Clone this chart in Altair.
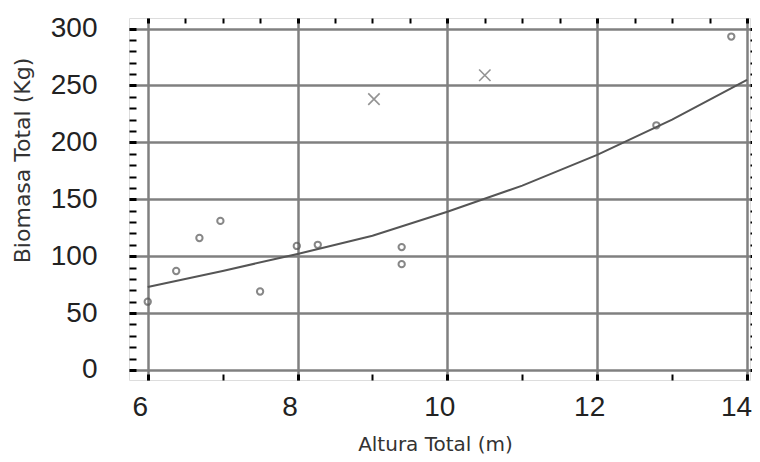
import altair as alt
import pandas as pd

# Observed data (circles)
obs_x = [6.0, 6.38, 6.69, 6.97, 7.50, 7.99, 8.27, 9.39, 9.39, 12.79, 13.79]
obs_y = [60, 87, 116, 131, 69, 109, 110, 108, 93, 215, 293]
# Outliers (crosses)
out_x = [9.02, 10.50]
out_y = [238, 259]
# Fitted curve
fit_x = [6.0, 7.0, 8.0, 9.0, 10.0, 11.0, 12.0, 13.0, 14.0]
fit_y = [73, 87, 102, 118, 139, 162, 189, 220, 255]

x_ticks_minor = [6 + 0.5 * i for i in range(17)]
y_ticks_minor = [10 * i for i in range(31)]

X_DOMAIN = [5.75, 14.04]
Y_DOMAIN = [-8.8, 309.3]

obs = pd.DataFrame({"x": obs_x, "y": obs_y})
out = pd.DataFrame({"x": out_x, "y": out_y})
fit = pd.DataFrame({"x": fit_x, "y": fit_y})

xs = alt.Scale(domain=X_DOMAIN, nice=False, zero=False)
ys = alt.Scale(domain=Y_DOMAIN, nice=False, zero=False)

LABEL_FONT = "Liberation Sans"
TITLE_FONT = "DejaVu Sans"

x_bottom = alt.Axis(
    title="Altura Total (m)",
    values=x_ticks_minor,
    format="d",
    labelExpr="datum.value % 2 === 0 ? datum.label : ''",
    labelFont=LABEL_FONT, labelFontSize=28, labelColor="#222",
    labelPadding=13,
    labelOffset={"condition": {"test": "datum.value === 14", "value": -11}, "value": -8},
    labelFlush=False, labelOverlap=False,
    offset=-6, tickSize=6, tickColor="#000",
    tickWidth={"condition": {"test": "datum.value % 2 === 0", "value": 3}, "value": 2},
    domain=False,
    grid=True, gridColor="#808080", gridWidth=2.5,
    gridOpacity={"condition": {"test": "datum.value % 2 === 0", "value": 1}, "value": 0},
    titleFont=TITLE_FONT, titleFontSize=20, titleFontWeight="normal", titleColor="#333",
    titleBaseline="alphabetic", titleX=306, titleY=76,
)
y_left = alt.Axis(
    title="Biomasa Total (Kg)",
    values=y_ticks_minor,
    format="d",
    labelExpr="datum.value % 50 === 0 ? datum.label : ''",
    labelFont=LABEL_FONT, labelFontSize=28, labelColor="#222",
    labelPadding=32, labelFlush=False, labelOverlap=False,
    offset=-7, tickSize=7, tickColor="#000",
    tickWidth={"condition": {"test": "datum.value % 50 === 0", "value": 3}, "value": 2},
    domain=False,
    grid=True, gridColor="#808080", gridWidth=2.5,
    gridOpacity={"condition": {"test": "datum.value % 50 === 0", "value": 1}, "value": 0},
    titleFont=TITLE_FONT, titleFontSize=22, titleFontWeight="normal", titleColor="#333",
    titleAngle=270, titleBaseline="alphabetic", titleX=-107, titleY=142,
)
x_top = alt.Axis(
    orient="top", title=None, values=x_ticks_minor, labels=False, domain=False,
    grid=False, offset=-5, tickSize=5, tickColor="#000",
    tickWidth={"condition": {"test": "datum.value % 2 === 0", "value": 3}, "value": 2},
)
y_right = alt.Axis(
    orient="right", title=None, values=y_ticks_minor, labels=False, domain=False,
    grid=False, tickSize=2, tickColor="#000",
    tickWidth={"condition": {"test": "datum.value % 50 === 0", "value": 3}, "value": 2},
)

points = alt.Chart(obs).mark_point(
    shape="circle", filled=False, size=40, stroke="#555", strokeWidth=2
).encode(
    x=alt.X("x:Q", scale=xs, axis=x_bottom),
    y=alt.Y("y:Q", scale=ys, axis=y_left),
)

crosses = alt.Chart(out).mark_point(
    shape="M-1,-1L1,1M-1,1L1,-1", filled=False, size=130, stroke="#666", strokeWidth=1.6
).encode(
    x=alt.X("x:Q", scale=xs, axis=x_bottom),
    y=alt.Y("y:Q", scale=ys, axis=y_left),
)

line = alt.Chart(fit).mark_line(color="#555", strokeWidth=2).encode(
    x=alt.X("x:Q", scale=xs, axis=x_top),
    y=alt.Y("y:Q", scale=ys, axis=y_right),
)

chart = alt.layer(points + crosses, line).resolve_axis(
    x="independent", y="independent"
).properties(
    width=621, height=362,
    autosize="none",
    padding={"left": 121, "top": 10, "right": 2, "bottom": 74},
).configure_view(
    stroke="#000", strokeWidth=2.5
).configure(background="white")

chart.save("out.html", embed_options={"renderer": "svg", "actions": False})
